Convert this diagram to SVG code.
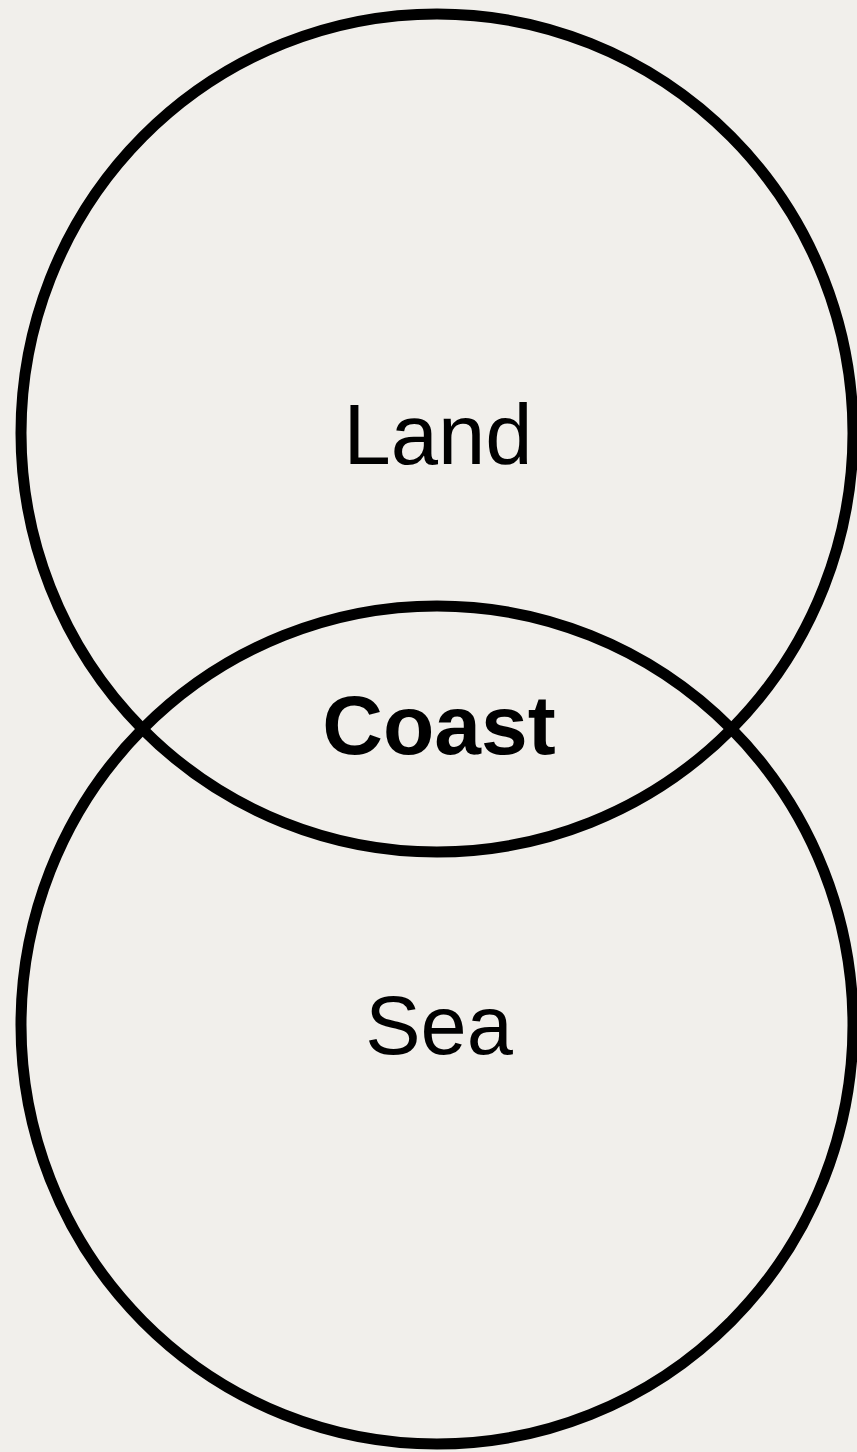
<svg xmlns="http://www.w3.org/2000/svg" width="857" height="1452" viewBox="0 0 857 1452">
<style>
.ring{fill:none;stroke:#000;stroke-width:11}
.lbl{font-family:"Liberation Sans",Arial,sans-serif;fill:#000;text-anchor:middle}
</style>
<rect width="857" height="1452" fill="#f1efeb"/>
<g id="land">
<ellipse class="ring" cx="437" cy="433" rx="416" ry="419"/>
<text class="lbl" x="438" y="464" font-size="85">Land</text>
</g>
<g id="sea">
<ellipse class="ring" cx="437" cy="1025" rx="416" ry="419"/>
<text class="lbl" x="439" y="1054" font-size="83">Sea</text>
</g>
<g id="coast">
<text class="lbl" x="439" y="754" font-size="84" font-weight="bold">Coast</text>
</g>
<g id="connectors"/>
</svg>
